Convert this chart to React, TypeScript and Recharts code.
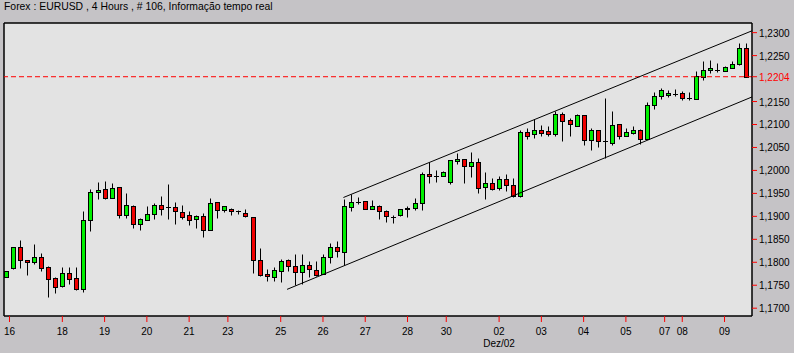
import { ComposedChart, Bar, XAxis, YAxis, CartesianGrid, ReferenceLine } from 'recharts'

const W = 794
const H = 353
const FONT = '"Liberation Sans", Arial, sans-serif'

// EURUSD 4h bars, oldest first (index 0 .. 105)
const opens = [
  1.1767, 1.1787, 1.1833, 1.1804, 1.1800, 1.1811, 1.1789, 1.1765, 1.1748, 1.1776,
  1.1765, 1.1741, 1.1892, 1.1952, 1.1959, 1.1939, 1.1963, 1.1902, 1.1922, 1.1883,
  1.1892, 1.1905, 1.1924, 1.1920, 1.1920, 1.1909, 1.1902, 1.1894, 1.1900, 1.1870,
  1.1931, 1.1913, 1.1915, 1.1911, 1.1907, 1.1898, 1.1804, 1.1775, 1.1767, 1.1781,
  1.1804, 1.1791, 1.1778, 1.1794, 1.1783, 1.1774, 1.1811, 1.1833, 1.1822, 1.1920,
  1.1931, 1.1933, 1.1915, 1.1922, 1.1911, 1.1899, 1.1902, 1.1915, 1.1918, 1.1929,
  1.1992, 1.1987, 1.1987, 1.1974, 1.2020, 1.2024, 1.2009, 1.2018, 1.1963, 1.1972,
  1.1961, 1.1981, 1.1968, 1.1944, 1.2084, 1.2079, 1.2087, 1.2086, 1.2080, 1.2122,
  1.2110, 1.2097, 1.2121, 1.2067, 1.2087, 1.2063, 1.2060, 1.2101, 1.2074, 1.2082,
  1.2087, 1.2069, 1.2142, 1.2161, 1.2164, 1.2166, 1.2168, 1.2157, 1.2156, 1.2203,
  1.2218, 1.2218, 1.2216, 1.2222, 1.2231, 1.2266,
]
const highs = [
  1.1782, 1.1833, 1.1849, 1.1804, 1.1840, 1.1820, 1.1791, 1.1767, 1.1790, 1.1790,
  1.1790, 1.1912, 1.1959, 1.1975, 1.1977, 1.1973, 1.1963, 1.1950, 1.1924, 1.1897,
  1.1922, 1.1929, 1.1944, 1.1971, 1.1931, 1.1925, 1.1912, 1.1903, 1.1907, 1.1939,
  1.1931, 1.1922, 1.1918, 1.1913, 1.1915, 1.1898, 1.1831, 1.1786, 1.1790, 1.1807,
  1.1807, 1.1818, 1.1818, 1.1802, 1.1802, 1.1818, 1.1843, 1.1847, 1.1937, 1.1948,
  1.1942, 1.1933, 1.1935, 1.1924, 1.1913, 1.1902, 1.1915, 1.1922, 1.1939, 1.1996,
  1.2018, 1.2000, 1.1998, 1.2022, 1.2037, 1.2024, 1.2040, 1.2027, 1.1996, 1.1983,
  1.1987, 1.1992, 1.1983, 1.2087, 1.2092, 1.2112, 1.2098, 1.2097, 1.2129, 1.2127,
  1.2114, 1.2122, 1.2121, 1.2093, 1.2089, 1.2158, 1.2129, 1.2101, 1.2092, 1.2097,
  1.2090, 1.2148, 1.2171, 1.2180, 1.2175, 1.2177, 1.2172, 1.2170, 1.2216, 1.2238,
  1.2241, 1.2234, 1.2227, 1.2239, 1.2277, 1.2277,
]
const lows = [
  1.1767, 1.1785, 1.1788, 1.1773, 1.1796, 1.1780, 1.1725, 1.1732, 1.1746, 1.1753,
  1.1739, 1.1736, 1.1867, 1.1938, 1.1938, 1.1939, 1.1897, 1.1897, 1.1875, 1.1871,
  1.1892, 1.1895, 1.1902, 1.1895, 1.1884, 1.1895, 1.1882, 1.1875, 1.1856, 1.1870,
  1.1897, 1.1909, 1.1902, 1.1905, 1.1898, 1.1777, 1.1771, 1.1760, 1.1760, 1.1758,
  1.1780, 1.1751, 1.1753, 1.1769, 1.1771, 1.1774, 1.1798, 1.1812, 1.1794, 1.1911,
  1.1926, 1.1915, 1.1915, 1.1894, 1.1887, 1.1885, 1.1900, 1.1898, 1.1913, 1.1913,
  1.1972, 1.1974, 1.1987, 1.1970, 1.2013, 1.1972, 1.1985, 1.1950, 1.1937, 1.1957,
  1.1957, 1.1955, 1.1942, 1.1942, 1.2069, 1.2071, 1.2076, 1.2076, 1.2074, 1.2065,
  1.2074, 1.2097, 1.2056, 1.2045, 1.2052, 1.2028, 1.2056, 1.2069, 1.2074, 1.2080,
  1.2058, 1.2069, 1.2134, 1.2155, 1.2159, 1.2161, 1.2153, 1.2153, 1.2156, 1.2196,
  1.2212, 1.2214, 1.2216, 1.2222, 1.2230, 1.2204,
]
const closes = [
  1.1782, 1.1833, 1.1804, 1.1800, 1.1811, 1.1787, 1.1763, 1.1746, 1.1776, 1.1764,
  1.1741, 1.1892, 1.1952, 1.1957, 1.1941, 1.1961, 1.1902, 1.1924, 1.1883, 1.1894,
  1.1905, 1.1924, 1.1917, 1.1920, 1.1911, 1.1899, 1.1892, 1.1900, 1.1870, 1.1929,
  1.1913, 1.1922, 1.1911, 1.1911, 1.1900, 1.1804, 1.1772, 1.1770, 1.1783, 1.1802,
  1.1791, 1.1778, 1.1794, 1.1785, 1.1773, 1.1811, 1.1833, 1.1824, 1.1922, 1.1931,
  1.1931, 1.1915, 1.1922, 1.1911, 1.1900, 1.1899, 1.1915, 1.1918, 1.1929, 1.1992,
  1.1987, 1.1987, 1.1996, 1.2022, 1.2024, 1.2009, 1.2018, 1.1961, 1.1972, 1.1959,
  1.1981, 1.1968, 1.1945, 1.2084, 1.2076, 1.2087, 1.2082, 1.2080, 1.2122, 1.2108,
  1.2100, 1.2121, 1.2067, 1.2087, 1.2063, 1.2063, 1.2098, 1.2074, 1.2083, 1.2087,
  1.2069, 1.2142, 1.2161, 1.2175, 1.2168, 1.2166, 1.2157, 1.2157, 1.2205, 1.2218,
  1.2222, 1.2218, 1.2225, 1.2231, 1.2266, 1.2204,
]

const lastPrice = 1.2204

// day labels on the time axis (position in bar index units)
const dayTickPos = [0.5, 8, 14, 20, 26, 31.5, 39, 45, 51, 57, 62.5, 70, 76, 82, 88, 93.5, 96, 102]
const dayTickLabels = ['16', '18', '19', '20', '21', '23', '25', '26', '27', '28', '30', '02', '03', '04', '05', '07', '08', '09']
const monthLabel = 'Dez/02'

const priceTicks = [1.23, 1.225, 1.2204, 1.215, 1.21, 1.205, 1.2, 1.195, 1.19, 1.185, 1.18, 1.175, 1.17]

// trend channel, [start, end] as (bar index, price)
const upperChannel = [{ x: 47.9, y: 1.1941 }, { x: 105.9, y: 1.2304 }]
const lowerChannel = [{ x: 39.9, y: 1.1741 }, { x: 105.9, y: 1.2160 }]

const xDomain = [-0.28, 105.9]
const yDomain = [1.1683, 1.2321]

const candles = opens.map((o, i) => ({ i, open: o, high: highs[i], low: lows[i], close: closes[i] }))

const Candle = (props: any) => {
  const { x, y, width, height, payload } = props
  const { open, close, high, low } = payload
  const top = Math.min(y, y + height)
  const h = Math.abs(height)
  const cx = Math.round(x + width / 2) + 0.5
  const py = (p: number) => (high === low ? top : top + ((high - p) / (high - low)) * h)
  const snap = (v: number) => Math.round(v) + 0.5
  const yo = snap(py(open))
  const yc = snap(py(close))
  const bodyTop = Math.min(yo, yc)
  const bodyH = Math.abs(yo - yc)
  return (
    <g>
      <line x1={cx} x2={cx} y1={snap(top)} y2={snap(top + h)} stroke="#000" strokeWidth={1} />
      {bodyH < 1 ? (
        <line x1={cx - 2.5} x2={cx + 2.5} y1={yo} y2={yo} stroke="#000" strokeWidth={1} />
      ) : (
        <rect
          x={cx - 2}
          y={bodyTop}
          width={4}
          height={bodyH}
          fill={close > open ? '#00f000' : '#f00000'}
          stroke="#000"
          strokeWidth={1}
        />
      )}
    </g>
  )
}

const PriceTick = ({ x, y, payload }: any) => {
  const v = payload.value
  const isLast = Math.abs(v - lastPrice) < 1e-7
  return (
    <text x={x} y={y} dy={4} fontSize={10} fontFamily={FONT} fill={isLast ? '#ff0000' : '#000'}>
      {v.toFixed(4).replace('.', ',')}
    </text>
  )
}

const DayTick = ({ x, y, payload }: any) => {
  const idx = dayTickPos.findIndex(p => Math.abs(p - payload.value) < 1e-6)
  const label = idx >= 0 ? dayTickLabels[idx] : ''
  return (
    <g>
      <text x={x} y={y} dy="0.71em" textAnchor="middle" fontSize={10} fontFamily={FONT} fill="#000">
        {label}
      </text>
      {label === '02' && (
        <text x={x} y={y + 12} dy="0.71em" textAnchor="middle" fontSize={10} fontFamily={FONT} fill="#000">
          {monthLabel}
        </text>
      )}
    </g>
  )
}

export default function App() {
  return (
    <div style={{ position: 'fixed', left: 0, top: 0, width: W, height: H, background: '#c5c3c6', overflow: 'hidden' }}>
      <div style={{ position: 'absolute', left: 4, top: 1, fontFamily: FONT, fontSize: 10.4, color: '#000', whiteSpace: 'nowrap' }}>
        Forex : EURUSD , 4 Hours , # 106, Informação tempo real
      </div>
      <ComposedChart
        width={W}
        height={H}
        data={candles}
        margin={{ top: 23, right: 0, bottom: 0, left: 4 }}
      >
        <CartesianGrid horizontal={false} vertical={false} fill="#e3e3e3" fillOpacity={1} />
        <XAxis
          type="number"
          dataKey="i"
          domain={xDomain}
          ticks={dayTickPos}
          interval={0}
          allowDataOverflow
          height={37}
          tickSize={6}
          tickMargin={6}
          tickLine={{ stroke: '#ff0000' }}
          axisLine={{ stroke: '#000', strokeWidth: 1.5 }}
          tick={<DayTick />}
        />
        <YAxis
          orientation="right"
          type="number"
          domain={yDomain}
          ticks={priceTicks}
          interval={0}
          allowDataOverflow
          width={42}
          tickSize={5}
          tickMargin={2}
          tickLine={{ stroke: '#ff0000' }}
          axisLine={{ stroke: '#000', strokeWidth: 1.5 }}
          tick={<PriceTick />}
        />
        <ReferenceLine y={yDomain[1]} stroke="#000" strokeWidth={1.5} ifOverflow="visible" />
        <ReferenceLine x={xDomain[0]} stroke="#000" strokeWidth={1.5} ifOverflow="visible" />
        <ReferenceLine y={lastPrice} stroke="#ff0000" strokeDasharray="5 3" />
        <ReferenceLine segment={upperChannel} stroke="#000" strokeWidth={1} ifOverflow="visible" />
        <ReferenceLine segment={lowerChannel} stroke="#000" strokeWidth={1} ifOverflow="visible" />
        <Bar
          dataKey={(d: any) => [d.low, d.high]}
          barSize={5}
          shape={<Candle />}
          isAnimationActive={false}
        />
      </ComposedChart>
    </div>
  )
}
